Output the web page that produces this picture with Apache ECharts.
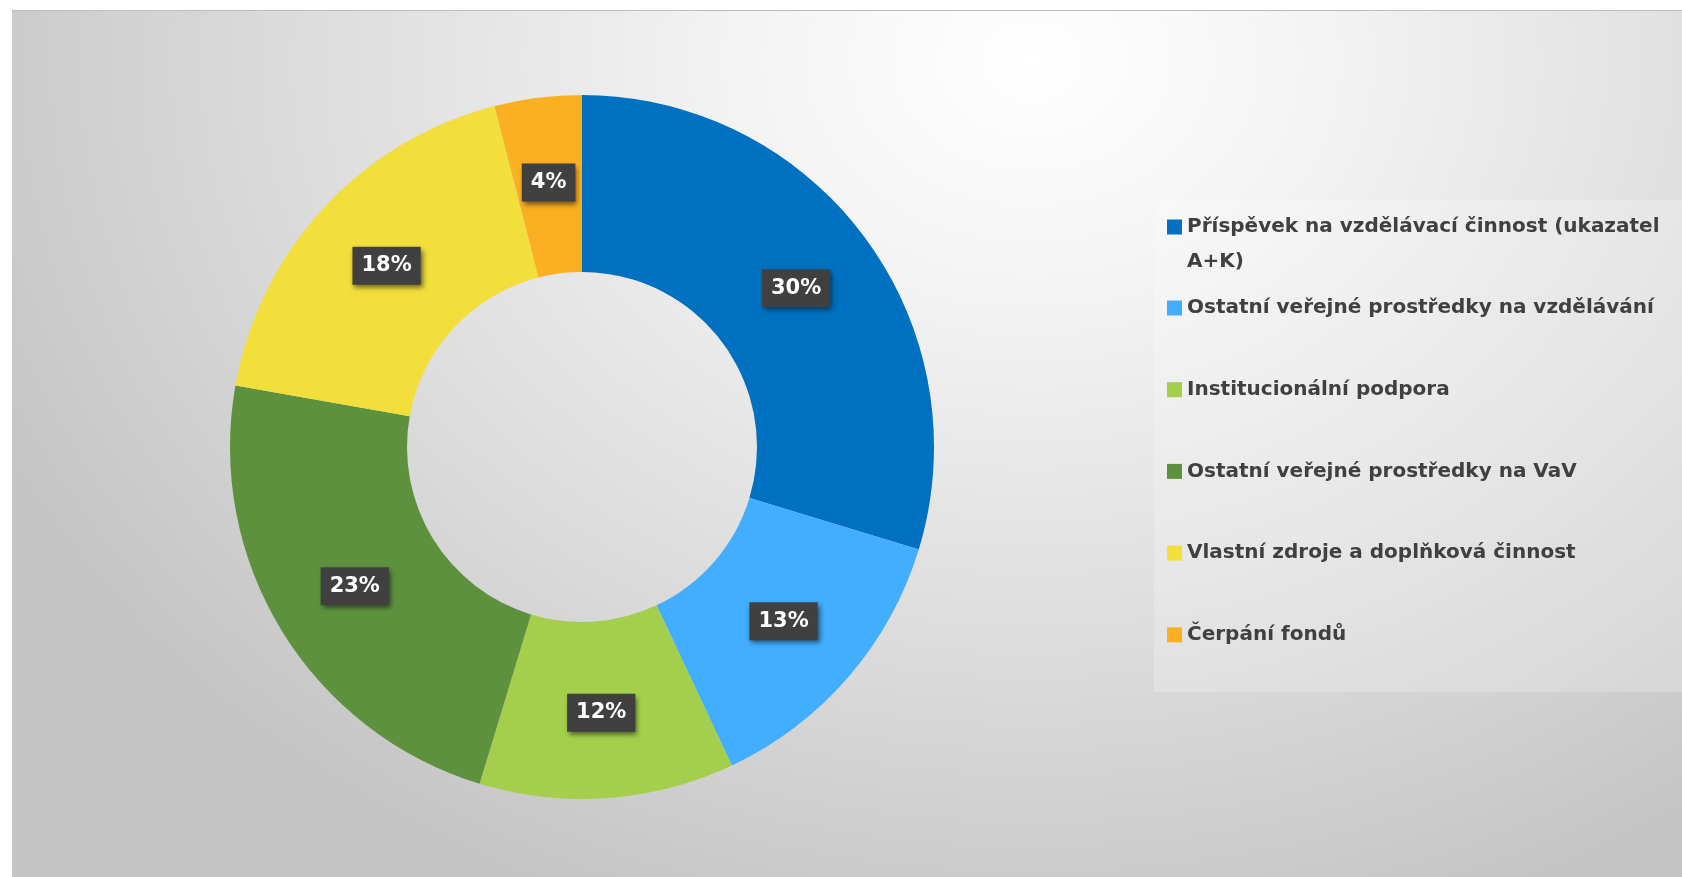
<!DOCTYPE html>
<html>
<head>
<meta charset="utf-8">
<script src="https://cdn.jsdelivr.net/npm/echarts@6/dist/echarts.min.js"></script>
<style>
  html, body { margin: 0; padding: 0; background: #fff; }
  #panel {
    position: absolute; left: 12px; top: 10px; right: 0; bottom: 0;
    border-top: 1px solid #bdbdbd;
    background: radial-gradient(ellipse 1150px 920px at 1020px 50px, #ffffff 0%, #f3f3f3 26%, #dcdcdc 64%, #c4c4c4 100%);
  }
  #chart { position: absolute; left: 0; top: 0; width: 1682px; height: 877px; }
</style>
</head>
<body>
<div id="panel"></div>
<div id="chart"></div>
<script>
const categories = [
  "Příspěvek na vzdělávací činnost (ukazatel A+K)",
  "Ostatní veřejné prostředky na vzdělávání",
  "Institucionální podpora",
  "Ostatní veřejné prostředky na VaV",
  "Vlastní zdroje a doplňková činnost",
  "Čerpání fondů"
];
const shares = [29.7, 13.3, 11.7, 23.1, 18.2, 4.0];
const colors = ["#0070c0", "#43aeff", "#a4cf4c", "#5e913e", "#f2df3c", "#fbb022"];

const chart = echarts.init(document.getElementById("chart"));

const legendText = {
  color: "#404040",
  fontFamily: "DejaVu Sans",
  fontWeight: "bold",
  fontSize: 20,
  lineHeight: 35
};

chart.setOption({
  backgroundColor: "transparent",
  color: colors,
  animation: false,
  graphic: [
    {
      type: "rect",
      shape: { x: 1154, y: 200, width: 528, height: 492 },
      style: { fill: "rgba(255,255,255,0.22)" },
      z: -1
    }
  ],
  legend: [
    {
      // first entry wraps to two lines; leading empty line keeps the marker on line one
      data: [categories[0]],
      orient: "vertical",
      left: 1167,
      top: 174.5,
      padding: 0,
      itemWidth: 15,
      itemHeight: 15,
      icon: "rect",
      formatter: (name) => "\n" + name.replace(" A+K)", "\nA+K)"),
      textStyle: legendText
    },
    {
      data: categories.slice(1),
      orient: "vertical",
      left: 1167,
      top: 290.5,
      padding: 0,
      itemGap: 46.7,
      itemWidth: 15,
      itemHeight: 15,
      icon: "rect",
      textStyle: legendText
    }
  ],
  series: [
    {
      type: "pie",
      center: [582, 447],
      radius: [175, 352],
      startAngle: 90,
      clockwise: true,
      percentPrecision: 0,
      avoidLabelOverlap: false,
      label: {
        show: true,
        position: "inside",
        formatter: "{d}%",
        color: "#ffffff",
        fontFamily: "DejaVu Sans",
        fontWeight: "bold",
        fontSize: 21,
        backgroundColor: "#404040",
        padding: [9, 9, 8, 9],
        shadowColor: "rgba(0,0,0,0.55)",
        shadowBlur: 5,
        shadowOffsetX: 2,
        shadowOffsetY: 3
      },
      labelLine: { show: false },
      emphasis: { disabled: true },
      data: categories.map((name, i) => ({ name, value: shares[i] }))
    }
  ]
});

window.addEventListener("resize", () => chart.resize());
</script>
</body>
</html>
